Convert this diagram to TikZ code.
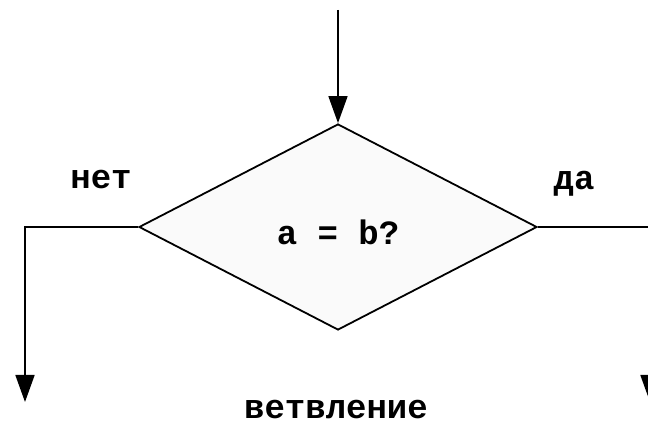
\documentclass[tikz,border=0pt]{standalone}
\usepackage{fontspec}
\setmonofont{Liberation Mono}
\usetikzlibrary{shapes.geometric,arrows.meta}
\tikzset{
  lbl/.style={font=\ttfamily\bfseries\fontsize{34}{34}\selectfont, inner sep=0pt, anchor=base},
  decision/.style={diamond, draw=black, line width=1.8pt, fill=gray!4, inner sep=0pt,
    minimum width=398pt, minimum height=206pt,
    font=\ttfamily\bfseries\fontsize{34}{34}\selectfont},
  arr/.style={draw=black, line width=1.7pt, -{Triangle[width=19pt,length=27pt]}}
}
\begin{document}
\begin{tikzpicture}[x=1pt,y=-1pt]
  \clip (0,0) rectangle (648,427);
  \fill[white] (0,0) rectangle (648,427);
  \coordinate (start) at (338,10);
  \node[decision] (d) at (338,227) {\raisebox{-5pt}[\height][0pt]{a = b?}};
  \coordinate (lend) at (25,402);
  \coordinate (rend) at (650,402);
  \draw[arr] (start) -- (d.north);
  \draw[arr] (d.west) -| (lend);
  \draw[arr] (d.east) -| (rend);
  \node[lbl] (no) at (101,189) {нет};
  \node[lbl] (yes) at (574,190) {да};
  \node[lbl] (cap) at (336,419) {ветвление};
\end{tikzpicture}
\end{document}
